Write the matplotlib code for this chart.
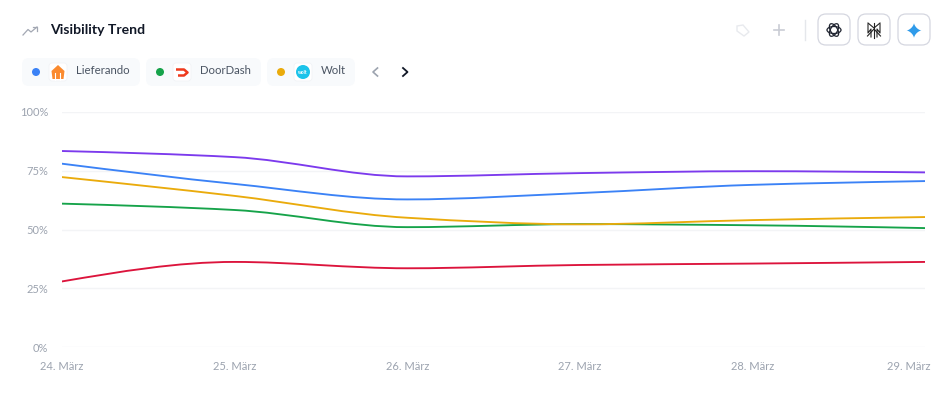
import matplotlib
matplotlib.use("Agg")
import matplotlib.pyplot as plt
from matplotlib.patches import FancyBboxPatch, Circle, PathPatch, Polygon, Ellipse
from matplotlib.path import Path
from matplotlib.transforms import ScaledTranslation
import numpy as np

plt.rcParams['font.family'] = ['Lato', 'DejaVu Sans']

dates = ["24. März", "25. März", "26. März", "27. März", "28. März", "29. März"]
purple = [83.4, 80.8, 72.6, 74.0, 74.8, 74.3]
blue = [78.0, 69.4, 62.8, 65.5, 69.0, 70.6]
yellow = [72.3, 64.3, 55.0, 52.2, 54.0, 55.3]
green = [61.0, 58.3, 51.0, 52.3, 51.8, 50.6]
red = [27.9, 36.2, 33.5, 34.9, 35.5, 36.2]
series = [(red, "#dc143c"), (green, "#16a34a"), (yellow, "#eaab0c"), (blue, "#3b82f6"), (purple, "#7c3aed")]
yticks = [0, 25, 50, 75, 100]
chips = ["Lieferando", "DoorDash", "Wolt"]
chip_colors = ["#3b82f6", "#16a34a", "#eaab0c"]

W, H = 948, 395
fig = plt.figure(figsize=(W / 100, H / 100), dpi=100, facecolor="white")

# chart axes
ax = fig.add_axes([62 / W, 1 - 347 / H, (925 - 62) / W, 235 / H])
ax.set_xlim(0, len(dates) - 1)
ax.set_ylim(0, 100)
for s in ax.spines.values():
    s.set_visible(False)
ax.set_yticks(yticks)
ax.set_yticklabels([f"{v}%" for v in yticks])
ax.set_xticks(range(len(dates)))
ax.set_xticklabels(dates)
ax.tick_params(length=0, labelcolor="#9ca3af", labelsize=8.0)
ax.tick_params(axis="x", pad=10.2)
ax.tick_params(axis="y", pad=10)
ax.grid(axis="y", color="#f3f4f6", lw=1)
ax.set_axisbelow(True)
last = ax.get_xticklabels()[-1]
last.set_ha("right")
last.set_transform(last.get_transform() + ScaledTranslation(5 / 100, 0, fig.dpi_scale_trans))
for t in ax.get_yticklabels() + ax.get_xticklabels():
    t.set_clip_on(False)


def curve(vals):
    """Smooth curve through the data points (cubic segments, monotone tangents)."""
    y = np.asarray(vals, float)
    d = np.diff(y)
    m = np.zeros_like(y)
    for i in range(1, len(y) - 1):
        m[i] = 0 if d[i - 1] * d[i] <= 0 else 2 * d[i - 1] * d[i] / (d[i - 1] + d[i])
    m[0] = 1.5 * d[0] - 0.5 * m[1]
    m[-1] = 1.5 * d[-1] - 0.5 * m[-2]
    verts = [(0, y[0])]
    codes = [Path.MOVETO]
    for i in range(len(y) - 1):
        verts += [(i + 1 / 3, y[i] + m[i] / 3), (i + 2 / 3, y[i + 1] - m[i + 1] / 3), (i + 1, y[i + 1])]
        codes += [Path.CURVE4] * 3
    return Path(verts, codes)


for vals, c in series:
    ax.add_patch(PathPatch(curve(vals), fc="none", ec=c, lw=1.35, capstyle="round"))

# header overlay in pixel coordinates
ui = fig.add_axes([0, 0, 1, 1], facecolor="none")
ui.set_xlim(0, W)
ui.set_ylim(H, 0)
ui.axis("off")


def rbox(x0, y0, x1, y1, r, fc, ec="none", lw=1):
    ui.add_patch(FancyBboxPatch((x0 + r, y0 + r), x1 - x0 - 2 * r, y1 - y0 - 2 * r,
                                boxstyle=f"round,pad={r}", fc=fc, ec=ec, lw=lw))


# title
ui.plot([23, 28, 31, 37], [35, 29.5, 32, 27], color="#a3a8b3", lw=0.9)
ui.plot([33, 37, 37], [27, 27, 31], color="#a3a8b3", lw=0.9)
ui.text(50, 29.5, "Visibility Trend", fontsize=10.1, fontweight="bold", color="#111827", va="center")

# chips
chip_box = [(22, 140), (146, 261), (267, 355)]
dot_x = [36, 160, 281]
icon_x = [49, 173, 294]
text_x = [76, 200, 321]
for name, col, (a, b), dx, ix, tx in zip(chips, chip_colors, chip_box, dot_x, icon_x, text_x):
    rbox(a, 58, b, 86, 7, "#f8fafc")
    ui.add_patch(Circle((dx, 72), 4, fc=col, ec="none"))
    rbox(ix, 63, ix + 18, 81, 3, "white", "#f1f3f6", 0.6)
    ui.text(tx, 70.5, name, fontsize=8.2, color="#4b5563", va="center")

# Lieferando icon
ui.add_patch(Polygon([[51.5, 71], [58, 65], [64.5, 71], [63.5, 79], [52.5, 79]], fc="#fb8a2e", ec="none"))
for xx in (55.5, 59.8):
    ui.plot([xx, xx], [73, 79.5], color="white", lw=0.8)
# DoorDash icon
ui.plot([176, 184, 187.5, 184, 178], [69.5, 69.5, 72.5, 75.5, 75.5], color="#ef3a1d", lw=1.8, solid_capstyle="butt")
# Wolt icon
ui.add_patch(Circle((303, 72), 7, fc="#1cc3ea", ec="none"))
ui.text(303, 72, "wolt", fontsize=3.5, color="white", ha="center", va="center", fontweight="bold")

# arrows
ui.plot([377.5, 373, 377.5], [68, 72, 76], color="#9ca3af", lw=1.2)
ui.plot([403, 407.5, 403], [68, 72, 76], color="#111827", lw=1.3)

# right-hand controls
ui.add_patch(Polygon([[737, 26], [743, 25], [749, 32], [744, 36], [737, 31]], fc="none", ec="#e8eaee", lw=1))
ui.plot([774, 784], [30, 30], color="#c9ccd4", lw=1.2)
ui.plot([779, 779], [25, 35], color="#c9ccd4", lw=1.2)
ui.plot([805.5, 805.5], [20, 40], color="#e5e7eb", lw=1)
for a, b in [(818, 850), (858, 890), (898, 930)]:
    rbox(a, 14, b, 45, 8, "white", "#d5d7e0", 0.9)
# ChatGPT icon
for ang in (0, 60, 120):
    ui.add_patch(Ellipse((834, 30), 14, 7, angle=ang, fc="none", ec="#1f2430", lw=0.9))
# Perplexity icon
ui.plot([868, 874, 880], [23, 28, 23], color="#222222", lw=0.8)
ui.plot([867.5, 874, 880.5], [36, 29, 36], color="#222222", lw=0.8)
ui.plot([868, 868, 871, 871], [24, 33, 29, 37], color="#222222", lw=0.8)
ui.plot([880, 880, 877, 877], [24, 33, 29, 37], color="#222222", lw=0.8)
ui.plot([874, 874], [23, 38], color="#222222", lw=0.8)
# Gemini icon
t = np.linspace(0, 2 * np.pi, 81)
r = 7.5
ui.add_patch(Polygon(np.c_[914 + r * np.sign(np.cos(t)) * np.abs(np.cos(t)) ** 3,
                           30.5 + r * np.sign(np.sin(t)) * np.abs(np.sin(t)) ** 3],
                     fc="#2f9bea", ec="none"))

fig.savefig("out.png", dpi=100)
